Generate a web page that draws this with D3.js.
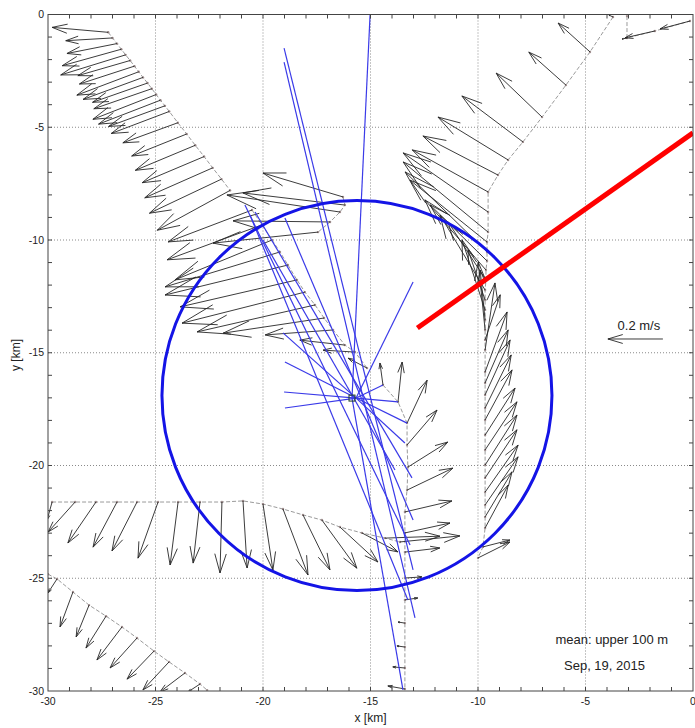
<!DOCTYPE html>
<html>
<head>
<meta charset="utf-8">
<script src="https://cdn.jsdelivr.net/npm/d3@7"></script>
<style>
  body { margin: 0; background: #fff; }
  text { font-family: "Liberation Sans", Arial, Helvetica, sans-serif; fill: #222; }
</style>
</head>
<body>
<div id="chart"></div>
<script>
// axis ticks (km)
var xTicks = [-30, -25, -20, -15, -10, -5, 0];
var yTicks = [-30, -25, -20, -15, -10, -5, 0];

// ship tracks, each row: [x km, y km, u m/s, v m/s]
var trackNW = [
  [-27.20, -0.79, -0.204, 0.018],
  [-27.00, -1.04, -0.170, -0.010],
  [-26.79, -1.29, -0.182, -0.036],
  [-26.59, -1.54, -0.215, -0.060],
  [-26.39, -1.79, -0.236, -0.073],
  [-26.18, -2.04, -0.190, -0.055],
  [-25.98, -2.29, -0.200, -0.065],
  [-25.78, -2.54, -0.225, -0.085],
  [-25.58, -2.79, -0.218, -0.080],
  [-25.37, -3.04, -0.200, -0.070],
  [-25.17, -3.29, -0.211, -0.073],
  [-24.97, -3.55, -0.230, -0.090],
  [-24.77, -3.80, -0.225, -0.087],
  [-24.56, -4.05, -0.205, -0.075],
  [-24.36, -4.30, -0.211, -0.080],
  [-23.96, -4.80, -0.200, -0.073],
  [-23.55, -5.30, -0.200, -0.080],
  [-23.15, -5.80, -0.218, -0.091],
  [-22.74, -6.30, -0.225, -0.095],
  [-22.34, -6.80, -0.247, -0.109],
  [-21.93, -7.30, -0.262, -0.124],
  [-21.53, -7.80, -0.265, -0.145]
];

var trackMid = [
  [-16.28, -8.09, -0.291, 0.087],
  [-16.19, -8.45, -0.371, 0.044],
  [-16.42, -8.76, -0.411, 0.062],
  [-16.88, -9.20, -0.353, 0.004],
  [-17.44, -9.65, -0.382, -0.040]
];

var trackSpoke = [
  [-20.51, -8.67, -0.305, -0.116],
  [-20.05, -9.33, -0.345, -0.127],
  [-19.58, -10.00, -0.353, -0.145],
  [-19.21, -10.53, -0.418, -0.127],
  [-18.84, -11.11, -0.447, -0.109],
  [-18.42, -11.77, -0.425, -0.098],
  [-18.05, -12.31, -0.447, -0.113],
  [-17.58, -12.88, -0.429, -0.098],
  [-17.16, -13.46, -0.367, -0.055],
  [-16.74, -13.99, -0.247, -0.018],
  [-16.19, -14.66, -0.164, 0.018],
  [-15.72, -14.97, -0.116, 0.007],
  [-15.16, -15.68, -0.069, 0.036]
];

var trackNE = [
  [-3.72, -0.11, -0.015, 0.007],
  [-4.79, -1.66, -0.116, 0.105],
  [-5.91, -3.13, -0.135, 0.120],
  [-7.02, -4.55, -0.167, 0.160],
  [-7.91, -5.65, -0.222, 0.167],
  [-8.60, -6.45, -0.255, 0.156],
  [-9.07, -7.12, -0.273, 0.142],
  [-9.53, -7.87, -0.276, 0.153],
  [-9.53, -8.76, -0.309, 0.215],
  [-9.53, -9.65, -0.309, 0.255],
  [-9.58, -10.09, -0.280, 0.225],
  [-9.58, -10.53, -0.298, 0.291],
  [-9.58, -10.93, -0.207, 0.204],
  [-9.63, -11.33, -0.222, 0.255],
  [-9.63, -11.77, -0.138, 0.211],
  [-9.67, -12.22, -0.164, 0.273],
  [-9.67, -12.66, -0.062, 0.182],
  [-9.67, -13.10, -0.084, 0.255],
  [-9.67, -13.55, -0.018, 0.182],
  [-9.67, -13.99, -0.025, 0.247],
  [-9.67, -14.43, 0.055, 0.164],
  [-9.67, -14.88, 0.036, 0.244],
  [-9.67, -15.85, 0.080, 0.218],
  [-9.67, -16.34, 0.084, 0.193],
  [-9.67, -16.87, 0.091, 0.200],
  [-9.67, -17.45, 0.095, 0.193],
  [-9.67, -17.98, 0.098, 0.182],
  [-9.67, -18.65, 0.109, 0.171],
  [-9.67, -19.31, 0.116, 0.175],
  [-9.67, -19.98, 0.116, 0.182],
  [-9.67, -20.55, 0.116, 0.175],
  [-9.67, -21.18, 0.120, 0.171],
  [-9.67, -21.75, 0.120, 0.175],
  [-9.67, -22.28, 0.098, 0.164],
  [-9.67, -22.77, 0.084, 0.156],
  [-9.77, -23.61, 0.098, 0.025],
  [-10.00, -24.10, 0.116, 0.058]
];

var trackCorner = [
  [-3.07, -0.07, 0, 0],
  [-3.07, -1.04, -0.018, -0.004],
  [-1.77, -0.73, -0.109, -0.025],
  [-0.14, -0.29, -0.109, -0.029]
];

var trackW = [
  [-29.81, -21.62, -0.018, -0.065],
  [-28.74, -21.62, -0.098, -0.109],
  [-27.77, -21.62, -0.102, -0.149],
  [-26.79, -21.62, -0.087, -0.164],
  [-25.86, -21.62, -0.091, -0.178],
  [-24.88, -21.62, -0.073, -0.204],
  [-23.95, -21.62, -0.029, -0.229],
  [-22.93, -21.62, -0.025, -0.222],
  [-21.91, -21.62, -0.007, -0.258],
  [-20.93, -21.57, 0.015, -0.244],
  [-20.00, -21.71, 0.036, -0.240],
  [-19.07, -21.93, 0.091, -0.240],
  [-18.14, -22.19, 0.098, -0.200],
  [-17.26, -22.42, 0.127, -0.175],
  [-16.42, -22.73, 0.138, -0.127],
  [-15.40, -22.99, 0.131, -0.069],
  [-14.33, -23.22, 0.200, 0.007],
  [-13.63, -23.39, 0.218, 0.022]
];

var trackS = [
  [-14.42, -16.43, -0.011, 0.080],
  [-13.72, -17.18, 0.015, 0.145],
  [-13.30, -18.12, 0.073, 0.156],
  [-13.30, -19.09, 0.109, 0.127],
  [-13.26, -20.07, 0.145, 0.091],
  [-13.30, -21.09, 0.167, 0.080],
  [-13.40, -22.06, 0.171, 0.040],
  [-13.40, -22.99, 0.164, 0.036],
  [-13.40, -23.84, 0.127, 0.015],
  [-13.40, -24.99, 0.062, 0.004],
  [-13.40, -25.96, 0.047, 0.007],
  [-13.40, -26.99, -0.025, 0.004],
  [-13.40, -28.05, -0.029, 0.004],
  [-13.40, -28.98, -0.044, 0.004],
  [-13.40, -29.91, -0.062, 0.011]
];

var trackSW = [
  [-30.00, -24.82, 0, 0],
  [-29.58, -25.03, -0.033, -0.051],
  [-28.84, -25.61, -0.047, -0.127],
  [-28.09, -26.19, -0.047, -0.116],
  [-27.30, -26.68, -0.073, -0.116],
  [-26.56, -27.16, -0.091, -0.120],
  [-25.86, -27.65, -0.098, -0.109],
  [-25.07, -28.23, -0.098, -0.102],
  [-24.37, -28.71, -0.095, -0.102],
  [-23.63, -29.20, -0.091, -0.069],
  [-22.93, -29.69, -0.044, -0.029],
  [-22.60, -29.96, 0, 0]
];

// float / drifter lines, each row: [x1, y1, x2, y2] km
var floatLines = [
  [-15.02, -0.02, -15.86, -17.01],
  [-19.02, -1.49, -13.02, -24.63],
  [-19.02, -2.11, -12.93, -26.76],
  [-20.84, -8.45, -13.16, -23.53],
  [-20.60, -8.90, -13.26, -25.96],
  [-20.37, -8.76, -13.07, -20.55],
  [-18.98, -9.02, -13.02, -22.42],
  [-20.00, -10.00, -13.86, -20.20],
  [-15.86, -17.01, -13.49, -29.95],
  [-15.67, -17.01, -18.98, -15.41],
  [-15.67, -17.01, -19.02, -16.74],
  [-15.67, -17.01, -18.98, -17.45],
  [-15.67, -17.01, -19.07, -14.12],
  [-15.67, -17.01, -13.02, -11.86],
  [-15.67, -17.01, -13.72, -17.18],
  [-15.67, -17.01, -13.30, -18.12],
  [-15.67, -17.01, -14.42, -16.43],
  [-15.67, -17.01, -13.40, -19.00]
];
var floatStart = [-15.86, -17.01];

var circleCenter = [-15.63, -16.90];
var circleRadius = 9.07;

var redLine = [-12.82, -13.90, 0.0, -5.25];

var refArrow = [-1.40, -14.39, -0.2, 0];

const width = 695;
const height = 728;
const margin = { left: 48, right: 2, top: 14.5, bottom: 37 };

var x = d3.scaleLinear().domain([-30, 0]).range([margin.left, width - margin.right]);
var y = d3.scaleLinear().domain([0, -30]).range([margin.top, height - margin.bottom]);
var speed = d3.scaleLinear().domain([0, 0.2]).range([0, 55]);

const svg = d3.select("#chart").append("svg")
  .attr("width", width)
  .attr("height", height)
  .style("background", "#fff");

svg.append("clipPath").attr("id", "plotclip")
  .append("rect")
  .attr("x", x(-30)).attr("y", y(0))
  .attr("width", x(0) - x(-30)).attr("height", y(-30) - y(0));

// dotted grid
var grid = svg.append("g");
grid.selectAll(".gx").data(xTicks.slice(1, -1)).enter().append("line")
  .attr("x1", d => x(d)).attr("x2", d => x(d))
  .attr("y1", y(0)).attr("y2", y(-30))
  .attr("stroke", "#8a8a8a").attr("stroke-width", 1).attr("stroke-dasharray", "1,2");
grid.selectAll(".gy").data(yTicks.slice(1, -1)).enter().append("line")
  .attr("y1", d => y(d)).attr("y2", d => y(d))
  .attr("x1", x(-30)).attr("x2", x(0))
  .attr("stroke", "#8a8a8a").attr("stroke-width", 1).attr("stroke-dasharray", "1,2");

const plot = svg.append("g").attr("clip-path", "url(#plotclip)");

function arrowPath(d) {
  var x0 = x(d[0]), y0 = y(d[1]);
  var dx = speed(d[2]), dy = -speed(d[3]);
  var x1 = x0 + dx, y1 = y0 + dy;
  var hx = x1 - 0.27 * dx, hy = y1 - 0.27 * dy;
  var px = -0.3 * 0.27 * dy, py = 0.3 * 0.27 * dx;
  return "M" + x0 + "," + y0 + "L" + x1 + "," + y1 +
    "M" + (hx + px) + "," + (hy + py) + "L" + x1 + "," + y1 + "L" + (hx - px) + "," + (hy - py);
}

var tracks = [trackNW, trackMid, trackSpoke, trackNE, trackCorner, trackW, trackS, trackSW];

var trackLine = d3.line().x(d => x(d[0])).y(d => y(d[1]));

tracks.forEach(function(t) {
  plot.append("path")
    .attr("d", trackLine(t))
    .attr("fill", "none")
    .attr("stroke", "#9a9a9a")
    .attr("stroke-width", 1)
    .attr("stroke-dasharray", "4,2");
  plot.selectAll(null).data(t).enter().append("circle")
    .attr("cx", d => x(d[0])).attr("cy", d => y(d[1]))
    .attr("r", 1.2)
    .attr("fill", "#a08f8f");
});

tracks.forEach(function(t) {
  plot.selectAll(null).data(t.filter(d => Math.abs(d[2]) + Math.abs(d[3]) > 0.003))
    .enter().append("path")
    .attr("d", arrowPath)
    .attr("fill", "none")
    .attr("stroke", "#262626")
    .attr("stroke-width", 0.9);
});

// float lines
plot.selectAll(".float").data(floatLines).enter().append("line")
  .attr("x1", d => x(d[0])).attr("y1", d => y(d[1]))
  .attr("x2", d => x(d[2])).attr("y2", d => y(d[3]))
  .attr("stroke", "#3a3ae8")
  .attr("stroke-width", 1.2);

plot.append("rect")
  .attr("x", x(floatStart[0]) - 3).attr("y", y(floatStart[1]) - 3)
  .attr("width", 6).attr("height", 6)
  .attr("fill", "none").attr("stroke", "#204020").attr("stroke-width", 1);

// circle
var rPx = x(circleCenter[0] + circleRadius) - x(circleCenter[0]);
plot.append("circle")
  .attr("cx", x(circleCenter[0])).attr("cy", y(circleCenter[1]))
  .attr("r", rPx)
  .attr("fill", "none")
  .attr("stroke", "#1414e6")
  .attr("stroke-width", 3);

// red line
plot.append("line")
  .attr("x1", x(redLine[0])).attr("y1", y(redLine[1]))
  .attr("x2", x(redLine[2])).attr("y2", y(redLine[3]))
  .attr("stroke", "#ff0000")
  .attr("stroke-width", 5);

// reference arrow
plot.append("path")
  .attr("d", arrowPath(refArrow))
  .attr("fill", "none")
  .attr("stroke", "#262626")
  .attr("stroke-width", 0.9);
svg.append("text")
  .attr("x", x(refArrow[0]) - 24).attr("y", y(refArrow[1]) - 9)
  .attr("text-anchor", "middle")
  .style("font-size", "13px")
  .text("0.2 m/s");

// frame and ticks
svg.append("rect")
  .attr("x", x(-30)).attr("y", y(0))
  .attr("width", x(0) - x(-30)).attr("height", y(-30) - y(0))
  .attr("fill", "none").attr("stroke", "#444").attr("stroke-width", 1);

var minor = d3.range(-29, 0, 1);
var tk = svg.append("g").attr("stroke", "#444").attr("stroke-width", 1);
minor.forEach(function(v) {
  tk.append("line").attr("x1", x(v)).attr("x2", x(v)).attr("y1", y(-30)).attr("y2", y(-30) - 4);
  tk.append("line").attr("x1", x(v)).attr("x2", x(v)).attr("y1", y(0)).attr("y2", y(0) + 4);
  tk.append("line").attr("y1", y(v)).attr("y2", y(v)).attr("x1", x(-30)).attr("x2", x(-30) + 4);
  tk.append("line").attr("y1", y(v)).attr("y2", y(v)).attr("x1", x(0)).attr("x2", x(0) - 4);
});

svg.selectAll(".xl").data(xTicks).enter().append("text")
  .attr("x", d => x(d)).attr("y", y(-30) + 14)
  .attr("text-anchor", "middle")
  .style("font-size", "10.5px")
  .text(d => String(d));
svg.selectAll(".yl").data(yTicks).enter().append("text")
  .attr("x", x(-30) - 4).attr("y", d => y(d) + 3.5)
  .attr("text-anchor", "end")
  .style("font-size", "10.5px")
  .text(d => String(d));

svg.append("text")
  .attr("x", x(-15)).attr("y", 722)
  .attr("text-anchor", "middle")
  .style("font-size", "12px")
  .text("x [km]");
svg.append("text")
  .attr("transform", "translate(20," + y(-15.1) + ") rotate(-90)")
  .attr("text-anchor", "middle")
  .style("font-size", "12px")
  .text("y [km]");

svg.append("text")
  .attr("x", x(-6.4)).attr("y", y(-27.92))
  .style("font-size", "13px")
  .text("mean: upper 100 m");
svg.append("text")
  .attr("x", x(-6.0)).attr("y", y(-29.07))
  .style("font-size", "13px")
  .text("Sep, 19, 2015");
</script>
</body>
</html>
